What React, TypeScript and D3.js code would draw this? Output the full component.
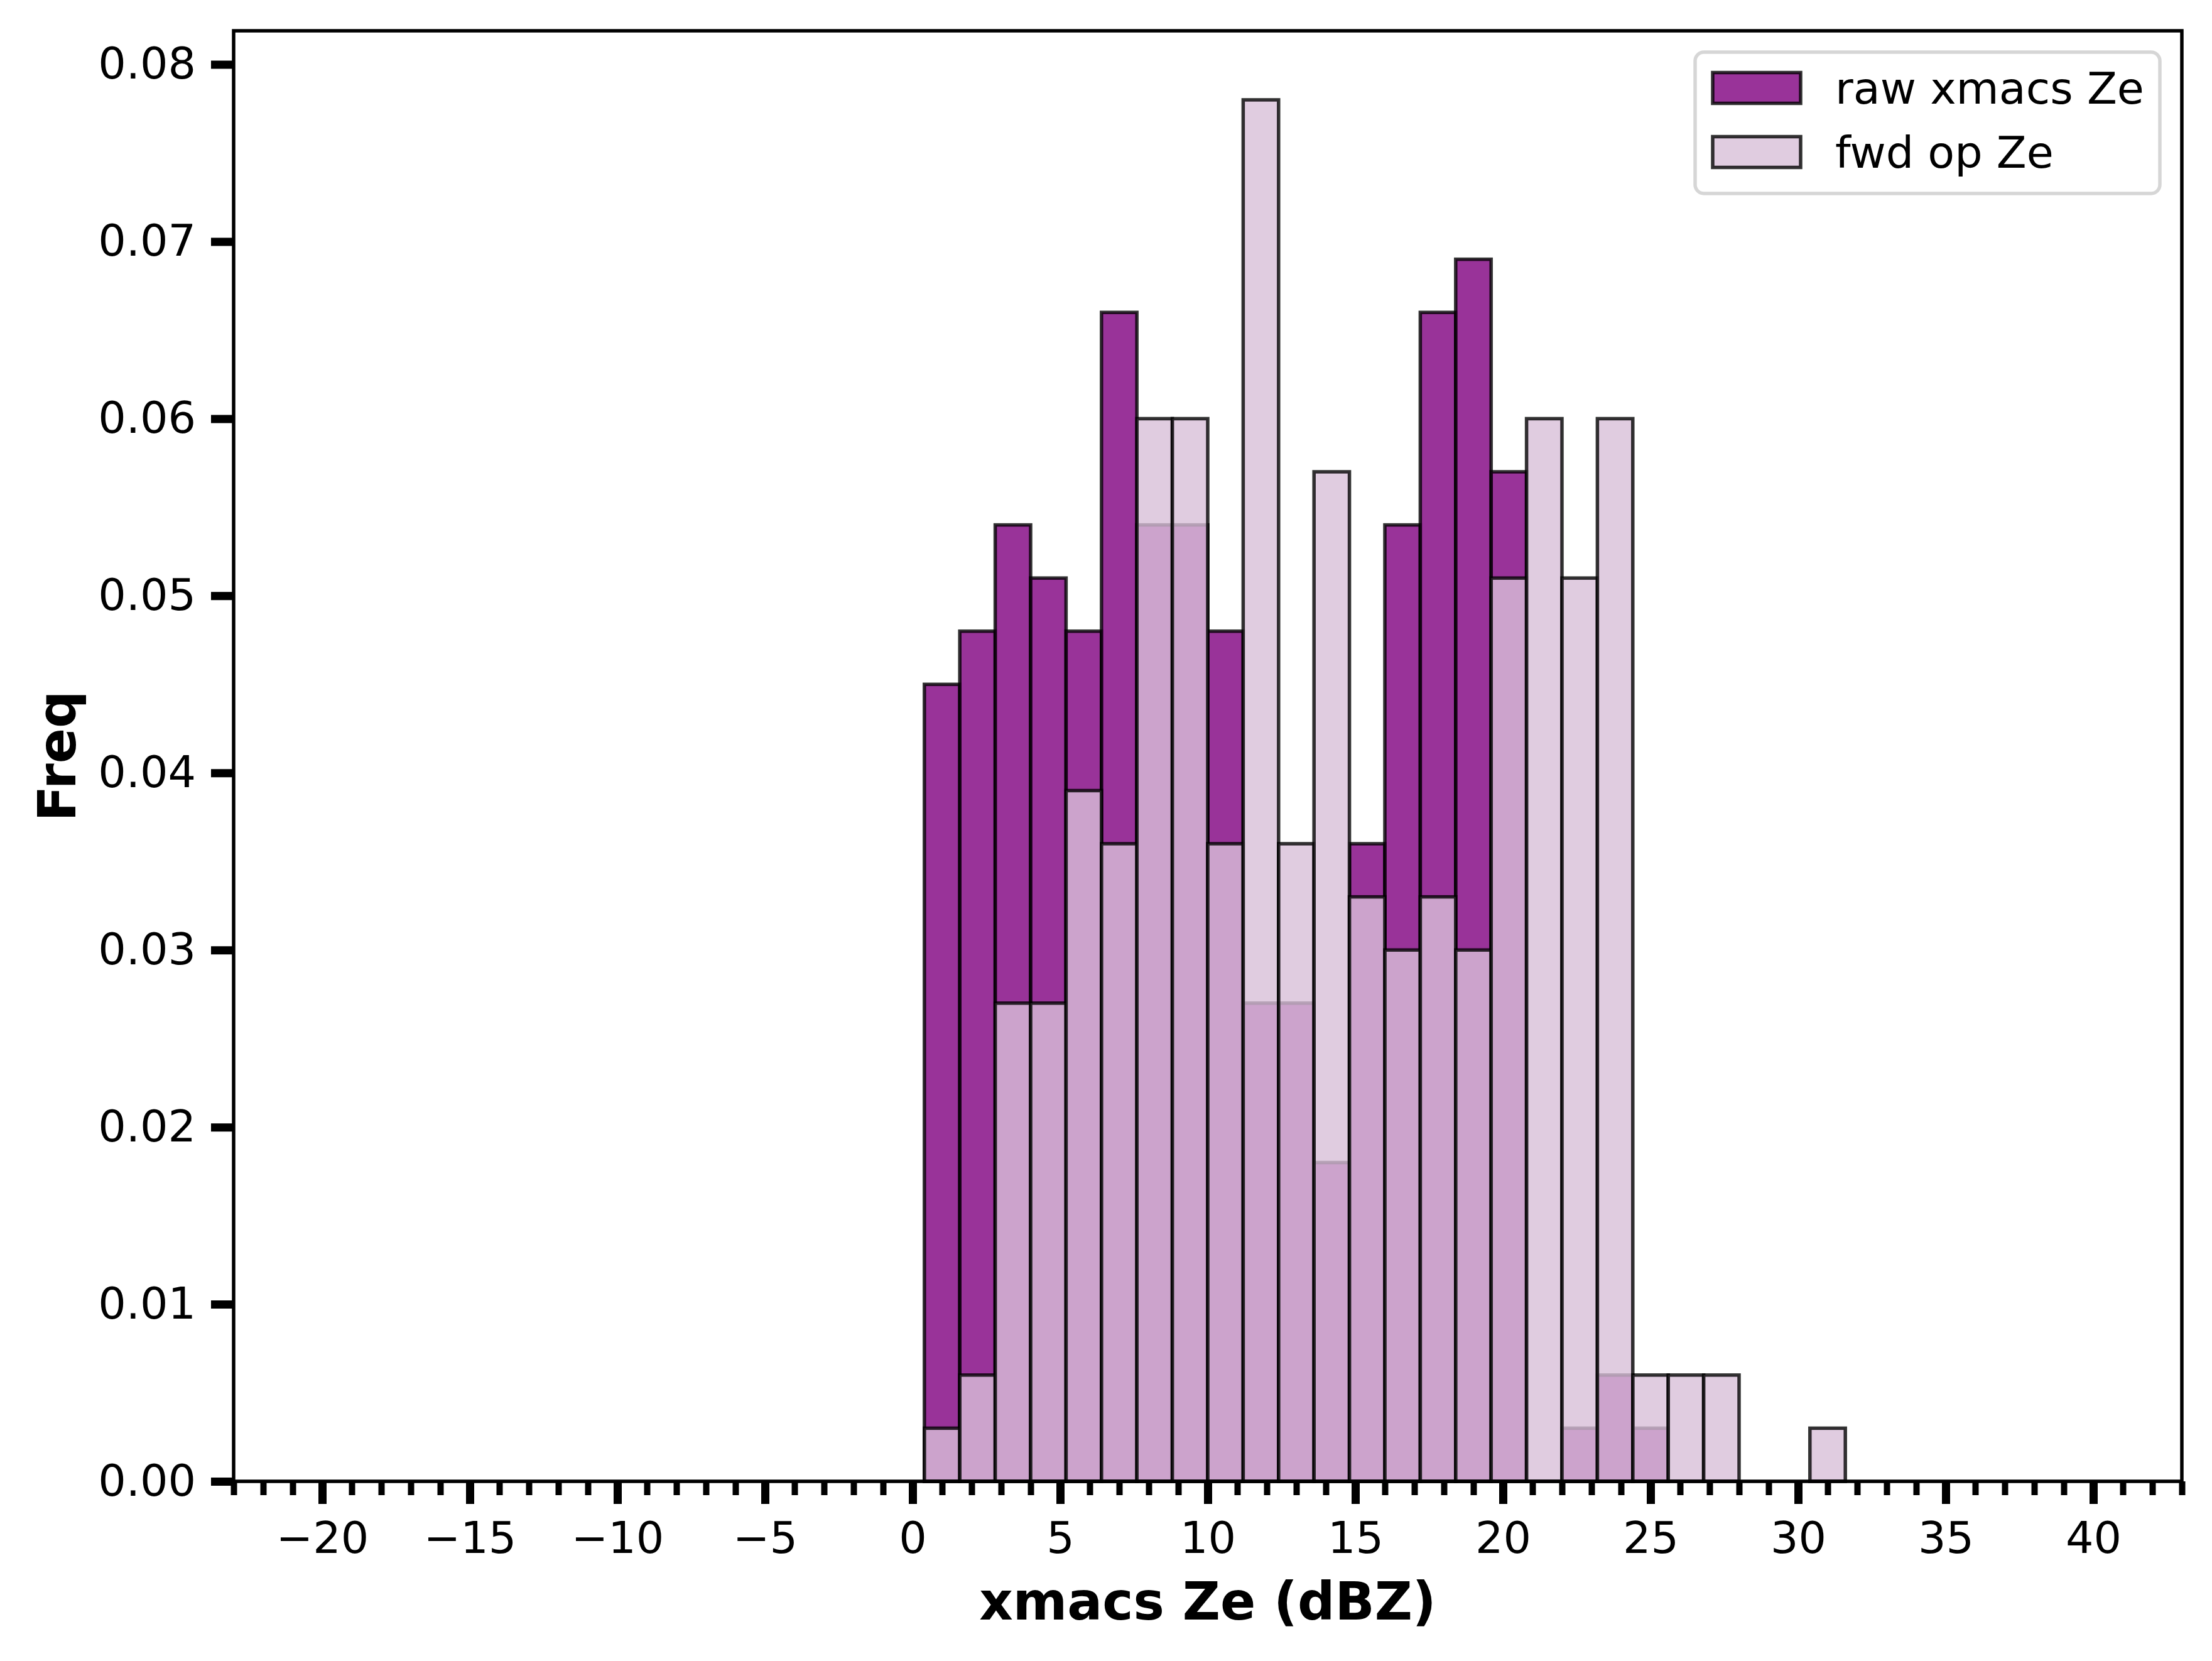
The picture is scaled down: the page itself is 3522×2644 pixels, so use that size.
import { useEffect, useRef } from 'react';
import * as d3 from 'd3';

// histogram setup (plt.hist(..., bins=50, range=(-20, 40), density=True))
const HIST_RANGE: [number, number] = [-20, 40];
const N_BINS = 50;

// bin heights, one per bin starting at -20 dBZ
const rawXmacsZe = [
  0, 0, 0, 0, 0, 0, 0, 0, 0, 0, 0, 0, 0, 0, 0, 0, 0,
  0.045, 0.048, 0.054, 0.051, 0.048, 0.066, 0.054, 0.054, 0.048, 0.027,
  0.027, 0.018, 0.036, 0.054, 0.066, 0.069, 0.057, 0, 0.003, 0.006,
  0.003, 0, 0, 0, 0, 0, 0, 0, 0, 0, 0, 0, 0, 0,
];

const fwdOpZe = [
  0, 0, 0, 0, 0, 0, 0, 0, 0, 0, 0, 0, 0, 0, 0, 0, 0,
  0.003, 0.006, 0.027, 0.027, 0.039, 0.036, 0.06, 0.06, 0.036, 0.078,
  0.036, 0.057, 0.033, 0.03, 0.033, 0.03, 0.051, 0.06, 0.051, 0.06,
  0.006, 0.006, 0.006, 0, 0, 0.003, 0, 0, 0, 0, 0, 0, 0, 0,
];

const seriesLabels = ['raw xmacs Ze', 'fwd op Ze'];
const seriesColors = ['#800080', '#d8bfd8'];

const xMajorTicks = [-20, -15, -10, -5, 0, 5, 10, 15, 20, 25, 30, 35, 40];
const yTicks = [0, 0.01, 0.02, 0.03, 0.04, 0.05, 0.06, 0.07, 0.08];

const xLabel = 'xmacs Ze (dBZ)';
const yLabel = 'Freq';

export default function App() {
  const svgRef = useRef<SVGSVGElement>(null);

  useEffect(() => {
    if (!svgRef.current) return;
    const svg = d3.select(svgRef.current);
    svg.selectAll('*').remove();

    const width = 3522;
    const height = 2644;
    const margin = { top: 49, right: 48, bottom: 286, left: 372 };
    const left = margin.left;
    const right = width - margin.right;
    const top = margin.top;
    const bottom = height - margin.bottom;

    const font = 'DejaVu Sans, Verdana, sans-serif';
    const tickFont = 70;
    const labelFont = 83;
    const lw = 5.5;

    const binW = (HIST_RANGE[1] - HIST_RANGE[0]) / N_BINS;
    const edges = d3.range(N_BINS).map(i => HIST_RANGE[0] + i * binW);
    const xPad = (HIST_RANGE[1] - HIST_RANGE[0]) * 0.05;

    const x = d3
      .scaleLinear()
      .domain([HIST_RANGE[0] - xPad, HIST_RANGE[1] + xPad])
      .range([left, right]);

    const yMax = (d3.max([...rawXmacsZe, ...fwdOpZe]) || 0) * 1.05;
    const y = d3.scaleLinear().domain([0, yMax]).range([bottom, top]);

    svg.append('rect').attr('width', width).attr('height', height).attr('fill', '#ffffff');

    // bars: raw first, fwd op drawn on top
    [rawXmacsZe, fwdOpZe].forEach((values, s) => {
      svg
        .append('g')
        .selectAll('rect')
        .data(values)
        .enter()
        .append('rect')
        .attr('x', (d, i) => x(edges[i]))
        .attr('width', (d, i) => x(edges[i] + binW) - x(edges[i]))
        .attr('y', d => y(d))
        .attr('height', d => bottom - y(d))
        .attr('fill', seriesColors[s])
        .attr('fill-opacity', 0.8)
        .attr('stroke', '#000')
        .attr('stroke-opacity', 0.8)
        .attr('stroke-width', lw);
    });

    // spines
    svg
      .append('rect')
      .attr('x', left)
      .attr('y', top)
      .attr('width', right - left)
      .attr('height', bottom - top)
      .attr('fill', 'none')
      .attr('stroke', '#000')
      .attr('stroke-width', lw);

    // x axis: major + minor ticks
    const xMinor = d3
      .range(Math.ceil(HIST_RANGE[0] - xPad), Math.floor(HIST_RANGE[1] + xPad) + 1)
      .filter(v => !xMajorTicks.includes(v));

    const xMinorAxis = svg
      .append('g')
      .attr('transform', `translate(0,${bottom})`)
      .call(d3.axisBottom(x).tickValues(xMinor).tickSize(22).tickFormat(() => ''));
    xMinorAxis.select('.domain').remove();
    xMinorAxis.selectAll('line').attr('stroke-width', 10);

    const xAxis = svg
      .append('g')
      .attr('transform', `translate(0,${bottom})`)
      .call(
        d3
          .axisBottom(x)
          .tickValues(xMajorTicks)
          .tickSize(36)
          .tickPadding(28)
          .tickFormat(d3.format('d') as any)
      );
    xAxis.select('.domain').remove();
    xAxis.selectAll('line').attr('stroke-width', 13);
    xAxis
      .selectAll('text')
      .attr('font-family', font)
      .attr('font-size', tickFont)
      .attr('fill', '#000');

    // y axis
    const yAxis = svg
      .append('g')
      .attr('transform', `translate(${left},0)`)
      .call(
        d3
          .axisLeft(y)
          .tickValues(yTicks)
          .tickSize(36)
          .tickPadding(24)
          .tickFormat(d3.format('.2f') as any)
      );
    yAxis.select('.domain').remove();
    yAxis.selectAll('line').attr('stroke-width', 13);
    yAxis
      .selectAll('text')
      .attr('font-family', font)
      .attr('font-size', tickFont)
      .attr('fill', '#000');

    // axis labels
    svg
      .append('text')
      .attr('x', (left + right) / 2)
      .attr('y', 2578)
      .attr('text-anchor', 'middle')
      .attr('font-family', font)
      .attr('font-weight', 'bold')
      .attr('font-size', labelFont)
      .text(xLabel);

    svg
      .append('text')
      .attr('transform', `translate(120,${(top + bottom) / 2}) rotate(-90)`)
      .attr('text-anchor', 'middle')
      .attr('font-family', font)
      .attr('font-weight', 'bold')
      .attr('font-size', labelFont)
      .text(yLabel);

    // legend
    const legendW = 740;
    const legendH = 225;
    const legendX = right - 35 - legendW;
    const legendY = top + 34;
    const legend = svg.append('g');
    legend
      .append('rect')
      .attr('x', legendX)
      .attr('y', legendY)
      .attr('width', legendW)
      .attr('height', legendH)
      .attr('rx', 14)
      .attr('fill', '#ffffff')
      .attr('fill-opacity', 0.8)
      .attr('stroke', '#cccccc')
      .attr('stroke-opacity', 0.8)
      .attr('stroke-width', lw);

    seriesLabels.forEach((label, i) => {
      const cy = legendY + 57 + i * 102;
      legend
        .append('rect')
        .attr('x', legendX + 28)
        .attr('y', cy - 24.5)
        .attr('width', 140)
        .attr('height', 49)
        .attr('fill', seriesColors[i])
        .attr('fill-opacity', 0.8)
        .attr('stroke', '#000')
        .attr('stroke-opacity', 0.8)
        .attr('stroke-width', lw);
      legend
        .append('text')
        .attr('x', legendX + 223)
        .attr('y', cy + 25)
        .attr('font-family', font)
        .attr('font-size', tickFont)
        .attr('fill', '#000')
        .text(label);
    });
  }, []);

  return (
    <svg
      ref={svgRef}
      width={3522}
      height={2644}
      style={{ position: 'absolute', left: 0, top: 0, display: 'block' }}
    />
  );
}
